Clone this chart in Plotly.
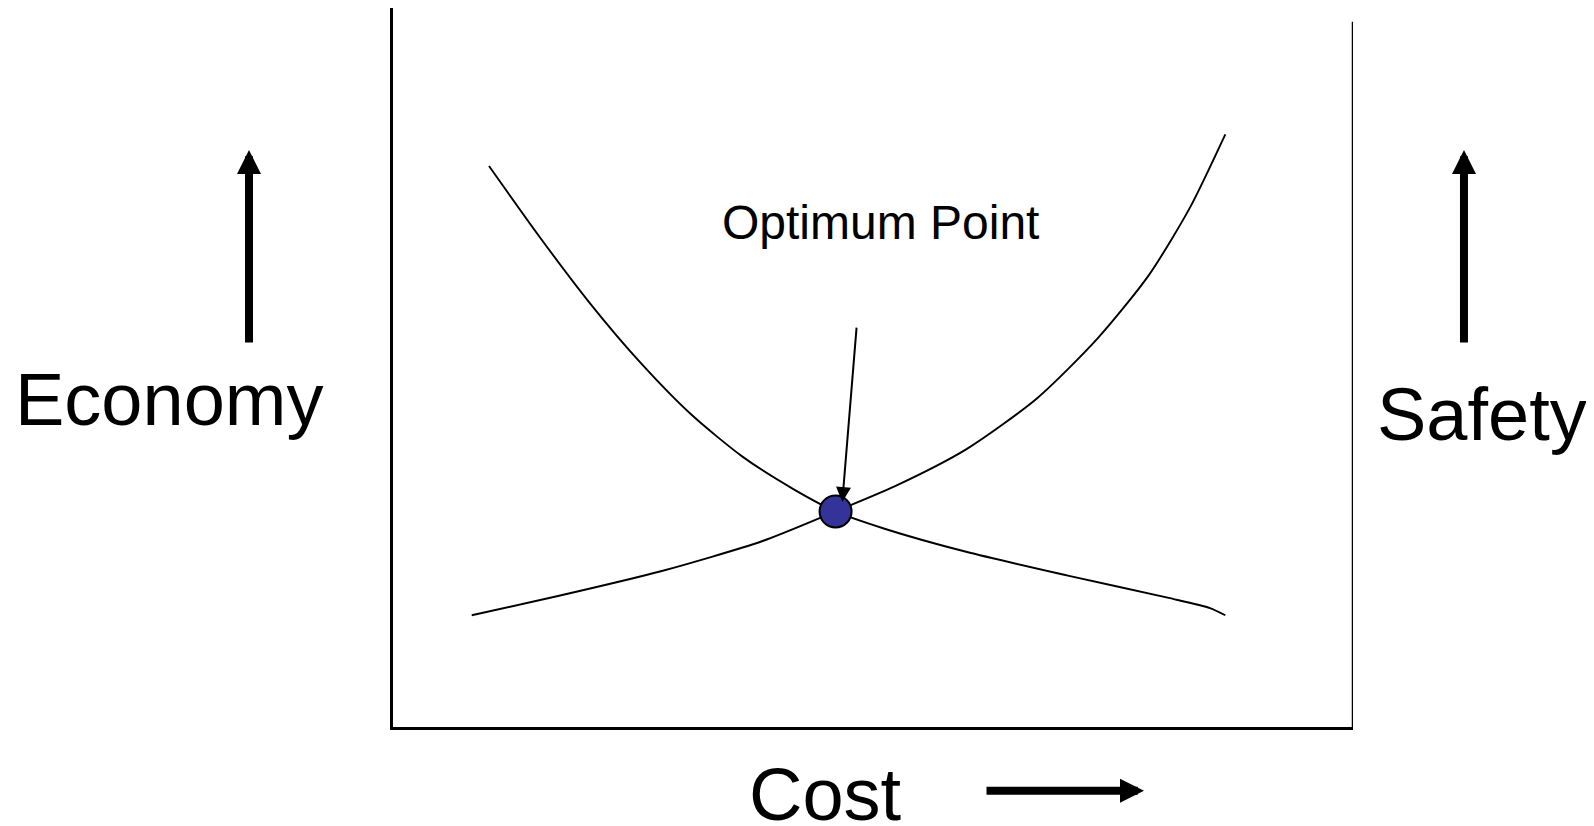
import plotly.graph_objects as go

# Data (abstract units: cost 0-100 across the frame, value 0-100 up the frame)
economy_x = [10.0, 15.2, 20.5, 25.8, 31.1, 36.4, 41.7, 46.1, 51.2, 59.7, 70.3, 80.8, 85.1, 86.7]
economy_y = [77.8, 68.1, 58.8, 50.5, 43.3, 37.5, 33.0, 29.9, 27.5, 24.3, 21.0, 17.9, 16.5, 15.5]
safety_x = [8.2, 17.3, 27.9, 38.5, 46.1, 52.3, 59.7, 67.1, 73.4, 78.7, 83.0, 86.7]
safety_y = [15.5, 18.2, 21.6, 25.8, 29.9, 33.4, 38.5, 45.6, 53.9, 62.6, 72.0, 82.2]
optimum_x = [46.1]
optimum_y = [29.9]

FONT = "Liberation Sans, Arial, sans-serif"

fig = go.Figure()
fig.add_trace(go.Scatter(x=economy_x, y=economy_y, mode="lines",
                         line=dict(color="black", width=1.9, shape="spline", smoothing=0.7),
                         hoverinfo="skip", showlegend=False))
fig.add_trace(go.Scatter(x=safety_x, y=safety_y, mode="lines",
                         line=dict(color="black", width=1.9, shape="spline", smoothing=0.7),
                         hoverinfo="skip", showlegend=False))
fig.add_trace(go.Scatter(x=optimum_x, y=optimum_y, mode="markers",
                         marker=dict(size=32, color="#333399", line=dict(color="black", width=2)),
                         hoverinfo="skip", showlegend=False, cliponaxis=False))

# right frame line
fig.add_shape(type="line", xref="x", yref="y", x0=100, x1=100, y0=0, y1=97.8,
              line=dict(color="black", width=2.5))

big = dict(family=FONT, size=74, color="black")
annotations = [
    # Optimum point pointer
    dict(x=46.8, y=31.2, ax=48.3, ay=55.6, xref="x", yref="y", axref="x", ayref="y",
         showarrow=True, arrowhead=2, arrowsize=1.5, arrowwidth=2, arrowcolor="black",
         standoff=0, text=""),
    dict(x=50.8, y=70.0, xref="x", yref="y", text="Optimum Point", showarrow=False,
         font=dict(family=FONT, size=48, color="black"), xanchor="center", yanchor="middle"),
    # Economy
    dict(x=-0.2333, y=0.456, xref="paper", yref="paper", text="Economy", showarrow=False,
         font=big, xanchor="center", yanchor="middle"),
    dict(x=-0.15, y=0.8025, ax=0, ay=194, xref="paper", yref="paper",
         showarrow=True, arrowhead=2, arrowsize=0.6, arrowwidth=8, arrowcolor="black",
         standoff=0, text=""),
    # Safety
    dict(x=1.134, y=0.434, xref="paper", yref="paper", text="Safety", showarrow=False,
         font=big, xanchor="center", yanchor="middle"),
    dict(x=1.1156, y=0.8025, ax=0, ay=194, xref="paper", yref="paper",
         showarrow=True, arrowhead=2, arrowsize=0.6, arrowwidth=8, arrowcolor="black",
         standoff=0, text=""),
    # Cost
    dict(x=0.45, y=-0.094, xref="paper", yref="paper", text="Cost", showarrow=False,
         font=big, xanchor="center", yanchor="middle"),
    dict(x=0.7823, y=-0.0888, ax=-159, ay=0, xref="paper", yref="paper",
         showarrow=True, arrowhead=2, arrowsize=0.6, arrowwidth=8, arrowcolor="black",
         standoff=0, text=""),
]

fig.update_layout(
    width=1594, height=826,
    margin=dict(l=385, r=249, t=0, b=107, pad=0),
    paper_bgcolor="white", plot_bgcolor="white",
    xaxis=dict(range=[0, 100], showgrid=False, zeroline=False, showticklabels=False,
               ticks="", showline=True, linecolor="black", linewidth=2.5, fixedrange=True),
    yaxis=dict(range=[0, 99.72], showgrid=False, zeroline=False, showticklabels=False,
               ticks="", showline=True, linecolor="black", linewidth=2.5, fixedrange=True),
    annotations=annotations,
    hovermode=False,
)

fig.write_html("out.html", config={"displayModeBar": False})
